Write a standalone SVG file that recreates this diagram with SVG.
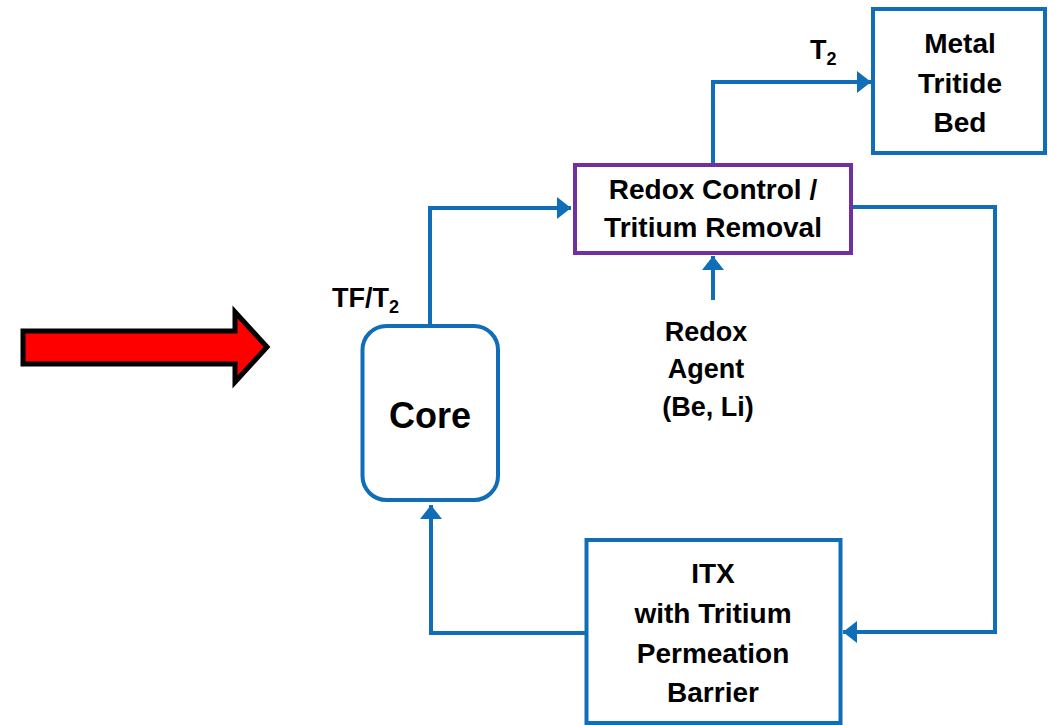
<svg xmlns="http://www.w3.org/2000/svg" width="1048" height="725" viewBox="0 0 1048 725">
  <style>
    .lbl { font-family: "Liberation Sans", Arial, sans-serif; font-weight: bold; fill: #000; }
    .c { text-anchor: middle; }
    .box { fill: #fff; stroke: #0F6EB7; stroke-width: 4; }
    .conn { fill: none; stroke: #0F6EB7; stroke-width: 4; stroke-linejoin: miter; }
  </style>
  <defs>
    <marker id="arr" markerUnits="userSpaceOnUse" markerWidth="16" markerHeight="24" refX="14" refY="11" orient="auto">
      <path d="M0,0 L14,11 L0,22 Z" fill="#0F6EB7"/>
    </marker>
  </defs>
  <rect width="1048" height="725" fill="#fff"/>

  <g id="input-arrow">
    <polygon points="23,331 235,331 235,312 267,347 235,382 235,364 23,364" fill="#FF0000" stroke="#000" stroke-width="5" stroke-linejoin="miter"/>
  </g>

  <g id="connectors">
    <path class="conn" d="M430,324 V208 H571" marker-end="url(#arr)"/>
    <path class="conn" d="M713,163 V82 H871" marker-end="url(#arr)"/>
    <path class="conn" d="M853,207 H995 V632 H843" marker-end="url(#arr)"/>
    <path class="conn" d="M585,633 H431 V505" marker-end="url(#arr)"/>
    <path class="conn" d="M713,300 V256" marker-end="url(#arr)"/>
  </g>

  <g id="core">
    <rect class="box" x="362.5" y="326" width="135.5" height="174" rx="24" ry="24"/>
    <text class="lbl c" x="430" y="428" font-size="36">Core</text>
  </g>

  <g id="redox-control">
    <rect x="575" y="165" width="276" height="88" fill="#fff" stroke="#7030A0" stroke-width="4"/>
    <text class="lbl c" x="713" y="199" font-size="28">Redox Control /</text>
    <text class="lbl c" x="713" y="237" font-size="28">Tritium Removal</text>
  </g>

  <g id="metal-tritide-bed">
    <rect class="box" x="873" y="9" width="172" height="144"/>
    <text class="lbl c" x="960" y="53" font-size="28">Metal</text>
    <text class="lbl c" x="960" y="93" font-size="28">Tritide</text>
    <text class="lbl c" x="960" y="132" font-size="28">Bed</text>
  </g>

  <g id="itx">
    <rect class="box" x="586.5" y="540" width="254" height="183"/>
    <text class="lbl c" x="713" y="583" font-size="28">ITX</text>
    <text class="lbl c" x="713" y="623" font-size="28">with Tritium</text>
    <text class="lbl c" x="713" y="663" font-size="28">Permeation</text>
    <text class="lbl c" x="713" y="702" font-size="28">Barrier</text>
  </g>

  <g id="redox-agent">
    <text class="lbl c" x="706" y="341" font-size="27">Redox</text>
    <text class="lbl c" x="706" y="378" font-size="27">Agent</text>
    <text class="lbl c" x="708" y="416" font-size="27">(Be, Li)</text>
  </g>

  <g id="labels">
    <text class="lbl" x="332" y="307" font-size="27">TF/T<tspan font-size="18" dy="6">2</tspan></text>
    <text class="lbl" x="810" y="59" font-size="27">T<tspan font-size="18" dy="6">2</tspan></text>
  </g>
</svg>
